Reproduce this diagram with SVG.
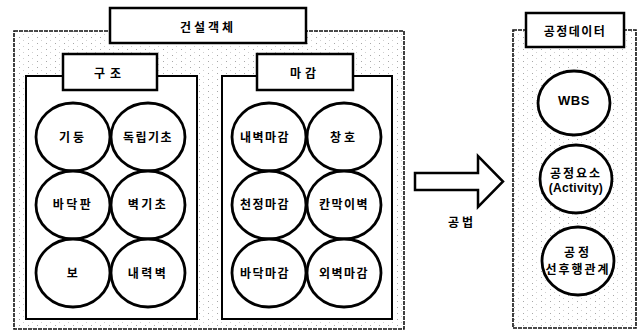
<svg xmlns="http://www.w3.org/2000/svg" width="640" height="331" viewBox="0 0 640 331">
  <defs>
    <pattern id="stip" width="9" height="6" patternUnits="userSpaceOnUse">
      <rect x="1" y="1" width="1" height="1" fill="#a8a8a8"/>
      <rect x="5" y="4" width="1" height="1" fill="#cfcfcf"/>
    </pattern>
  </defs>
  <style>
    .outer { fill: url(#stip); stroke: #111; stroke-width: 1.6; stroke-dasharray: 4 1; }
    .inner { fill: #fff; stroke: #000; stroke-width: 2; }
    .tbox { fill: #fff; stroke: #000; stroke-width: 2.5; }
    .node { fill: #fff; stroke: #000; stroke-width: 2.8; }
    .lbl { font-family: "Noto Sans CJK KR", "Noto Sans", sans-serif; font-weight: bold; font-size: 12px; fill: #000; text-anchor: middle; dominant-baseline: central; letter-spacing: 1.5px; }
    .arrow { fill: #fff; stroke: #000; stroke-width: 2.5; stroke-linejoin: miter; }
  </style>

  <g id="construction-object">
    <rect class="outer" x="14" y="31" width="390" height="298"/>
    <rect class="tbox" x="110" y="8" width="196" height="35"/>
    <text class="lbl" x="208" y="26" style="letter-spacing: 3px;">건설객체</text>
  </g>

  <g id="structure">
    <rect class="inner" x="26" y="76" width="171" height="243"/>
    <rect class="tbox" x="63" y="54" width="94" height="36"/>
    <text class="lbl" x="110" y="72" style="letter-spacing: 5px;">구조</text>
  </g>

  <g id="finish">
    <rect class="inner" x="222" y="76" width="170" height="243"/>
    <rect class="tbox" x="257" y="54" width="96" height="36"/>
    <text class="lbl" x="305" y="72" style="letter-spacing: 4px;">마감</text>
  </g>

  <g id="column"><ellipse class="node" cx="73" cy="137" rx="37" ry="34"/><text class="lbl" x="73" y="136" style="letter-spacing: 3px;">기둥</text></g>
  <g id="isolated-footing"><ellipse class="node" cx="148" cy="137" rx="37" ry="34"/><text class="lbl" x="148" y="136">독립기초</text></g>
  <g id="slab"><ellipse class="node" cx="73" cy="205" rx="37" ry="34"/><text class="lbl" x="73" y="203" style="letter-spacing: 2.5px;">바닥판</text></g>
  <g id="wall-footing"><ellipse class="node" cx="148" cy="205" rx="37" ry="34"/><text class="lbl" x="148" y="203" style="letter-spacing: 2.5px;">벽기초</text></g>
  <g id="beam"><ellipse class="node" cx="73" cy="273" rx="37" ry="34"/><text class="lbl" x="73" y="272">보</text></g>
  <g id="bearing-wall"><ellipse class="node" cx="148" cy="273" rx="37" ry="34"/><text class="lbl" x="148" y="272" style="letter-spacing: 2.5px;">내력벽</text></g>

  <g id="interior-wall-finish"><ellipse class="node" cx="269" cy="137" rx="37" ry="34"/><text class="lbl" x="265" y="136">내벽마감</text></g>
  <g id="window-door"><ellipse class="node" cx="344" cy="137" rx="37" ry="34"/><text class="lbl" x="344" y="136" style="letter-spacing: 3px;">창호</text></g>
  <g id="ceiling-finish"><ellipse class="node" cx="269" cy="205" rx="37" ry="34"/><text class="lbl" x="265" y="203">천정마감</text></g>
  <g id="partition-wall"><ellipse class="node" cx="344" cy="205" rx="37" ry="34"/><text class="lbl" x="344" y="203">칸막이벽</text></g>
  <g id="floor-finish"><ellipse class="node" cx="269" cy="273" rx="37" ry="34"/><text class="lbl" x="265" y="272">바닥마감</text></g>
  <g id="exterior-wall-finish"><ellipse class="node" cx="344" cy="273" rx="37" ry="34"/><text class="lbl" x="344" y="272">외벽마감</text></g>

  <g id="connectors">
    <polygon class="arrow" points="415,173 478,173 478,156 503,181.5 478,207 478,190 415,190"/>
    <text class="lbl" x="462" y="221" style="letter-spacing: 3px;">공법</text>
  </g>

  <g id="schedule-data">
    <rect class="outer" x="513" y="30" width="123" height="298"/>
    <rect class="tbox" x="526" y="13" width="98" height="34"/>
    <text class="lbl" x="575" y="30">공정데이터</text>
  </g>

  <g id="wbs"><ellipse class="node" cx="574" cy="103" rx="36" ry="32"/><text class="lbl" x="574" y="100" style="font-family: 'Liberation Sans', Arial, sans-serif; font-size: 13px; letter-spacing: 0.5px;">WBS</text></g>
  <g id="activity"><ellipse class="node" cx="576" cy="179" rx="36" ry="34"/><text class="lbl" x="576" y="172" style="letter-spacing: 2px;">공정요소</text><text class="lbl" x="576" y="188" style="font-family: 'Liberation Sans', Arial, sans-serif; letter-spacing: 0.3px;">(Activity)</text></g>
  <g id="precedence"><ellipse class="node" cx="578" cy="261" rx="36" ry="34"/><text class="lbl" x="578" y="251" style="letter-spacing: 3px;">공정</text><text class="lbl" x="578" y="268" style="letter-spacing: 2px;">선후행관계</text></g>
</svg>
